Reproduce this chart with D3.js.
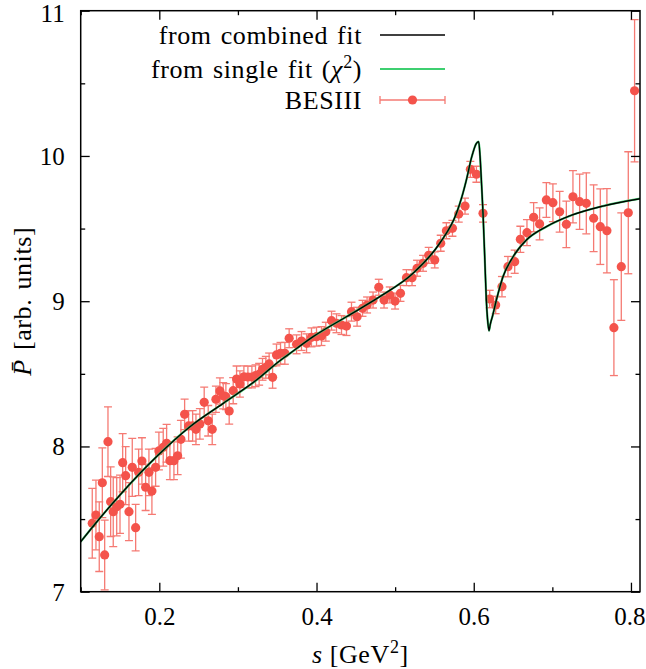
<!DOCTYPE html>
<html>
<head>
<meta charset="utf-8">
<script src="https://cdn.jsdelivr.net/npm/d3@7"></script>
<style>
  html, body { margin: 0; padding: 0; background: #fff; }
  svg { display: block; }
  text { font-family: "Liberation Serif", "Times New Roman", serif; fill: #000; }
</style>
</head>
<body>
<svg id="chart" width="646" height="669"></svg>
<script>
// ---- data ----
const besS = [0.1147,0.1194,0.1236,0.1275,0.1305,0.1347,0.1381,0.1414,0.1458,0.1500,
0.1534,0.1572,0.1614,0.1656,0.1699,0.1737,0.1779,0.1826,0.1868,0.1906,
0.1953,0.1995,0.2050,0.2093,0.2135,0.2186,0.2233,0.2275,0.2322,0.2373,
0.2424,0.2466,0.2516,0.2571,0.2622,0.2673,0.2720,0.2771,0.2813,0.2847,
0.2889,0.2940,0.2983,0.3025,0.3076,0.3127,0.3178,0.3224,0.3270,0.3313,
0.3355,0.3397,0.3441,0.3491,0.3542,0.3597,0.3652,0.3746,0.3809,0.3873,
0.3936,0.4000,0.4063,0.4118,0.4191,0.4254,0.4318,0.4381,0.4445,0.4516,
0.4585,0.4643,0.4719,0.4792,0.4859,0.4932,0.4999,0.5068,0.5144,0.5215,
0.5279,0.5355,0.5427,0.5504,0.5580,0.5652,0.5729,0.5809,0.5889,0.5957,
0.6034,0.6118,0.6203,0.6279,0.6359,0.6435,0.6521,0.6593,0.6677,0.6762,
0.6838,0.6924,0.7007,0.7093,0.7178,0.7262,0.7347,0.7432,0.7525,0.7610,
0.7694,0.7783,0.7877,0.7966,0.8046];
const besP = [7.471,7.528,7.379,7.750,7.253,8.033,7.620,7.551,7.585,7.602,
7.888,7.799,7.551,7.856,7.441,7.822,7.900,7.719,7.822,7.693,
7.856,7.969,7.994,8.022,7.902,7.902,7.936,8.049,8.221,8.141,
8.141,8.118,8.155,8.304,8.177,8.118,8.325,8.382,8.349,8.343,
8.244,8.384,8.464,8.430,8.480,8.478,8.478,8.487,8.497,8.531,
8.545,8.568,8.476,8.630,8.641,8.641,8.745,8.703,8.726,8.710,
8.751,8.756,8.760,8.790,8.866,8.848,8.836,8.829,8.928,8.893,
8.951,8.974,9.008,9.096,9.008,9.043,9.001,9.054,9.162,9.162,
9.227,9.261,9.316,9.284,9.399,9.485,9.502,9.600,9.655,9.908,
9.874,9.605,9.015,8.974,9.100,9.238,9.272,9.426,9.472,9.578,
9.532,9.697,9.678,9.616,9.529,9.719,9.685,9.674,9.571,9.513,
9.485,8.818,9.238,9.609,10.449];
const besErr = [0.24,0.24,0.24,0.24,0.24,0.24,0.24,0.24,0.20,0.20,
0.20,0.20,0.20,0.20,0.16,0.16,0.16,0.16,0.16,0.16,
0.13,0.13,0.13,0.13,0.13,0.13,0.13,0.13,0.105,0.105,
0.105,0.105,0.105,0.105,0.105,0.105,0.09,0.09,0.09,0.09,
0.09,0.09,0.09,0.09,0.075,0.075,0.075,0.075,0.075,0.075,
0.075,0.075,0.075,0.075,0.075,0.075,0.065,0.065,0.065,0.065,
0.065,0.065,0.065,0.065,0.065,0.065,0.065,0.065,0.065,0.065,
0.055,0.055,0.055,0.055,0.055,0.055,0.055,0.055,0.055,0.055,
0.055,0.055,0.055,0.055,0.055,0.055,0.055,0.055,0.055,0.055,
0.055,0.06,0.06,0.06,0.07,0.07,0.08,0.09,0.09,0.10,
0.11,0.12,0.13,0.14,0.16,0.18,0.19,0.21,0.23,0.26,
0.29,0.33,0.37,0.42,0.49];

// fitted curve (combined fit)
const fitS = [0.100,0.112,0.150,0.1966,0.239,0.2813,0.3237,0.3533,0.366,0.3957,
0.438,0.4805,0.5228,0.5567,0.578,0.585,0.5906,0.5975,0.6034,0.6063,
0.608,0.610,0.6118,0.614,0.616,0.6175,0.6194,0.621,0.624,0.6288,
0.6372,0.650,0.667,0.6924,0.722,0.7643,0.812];
const fitP = [7.344,7.425,7.666,7.930,8.136,8.297,8.457,8.590,8.640,8.756,
8.893,9.031,9.192,9.399,9.605,9.72,9.834,9.995,10.087,10.098,
10.00,9.80,9.605,9.30,9.008,8.88,8.797,8.84,8.90,9.008,
9.169,9.306,9.421,9.513,9.587,9.655,9.706];
// single fit (chi^2) – visually coincides with the combined fit
const singleS = fitS.slice();
const singleP = fitP.slice();

const xMajor = [0.2, 0.4, 0.6, 0.8];
const xMinor = [0.1, 0.3, 0.5, 0.7];
const yMajor = [7, 8, 9, 10, 11];
const yMinor = [7.5, 8.5, 9.5, 10.5];
const legendLabels = ["from combined fit", "from single fit (", "\u03C7", "BESIII"];

// ---- layout ----
const W = 646, H = 669;
const m = {left: 80.7, right: 6, top: 10.7, bottom: 77.3};
const svg = d3.select("#chart");
const x = d3.scaleLinear().domain([0.1, 0.8115]).range([m.left, W - m.right]);
const y = d3.scaleLinear().domain([7, 11]).range([H - m.bottom, m.top]);

const red = "#f4534b";
const redBar = "#f57a73";
const green = "#3ecf70";

const plot = svg.append("g");
plot.append("clipPath").attr("id", "clip").append("rect")
  .attr("x", m.left).attr("y", m.top)
  .attr("width", W - m.left - m.right).attr("height", H - m.top - m.bottom);

// error bars
const pts = besS.map((s, i) => ({s, p: besP[i], e: besErr[i]}));
const eb = plot.append("g").attr("stroke", redBar).attr("stroke-width", 1.3).attr("fill", "none")
  .attr("clip-path", "url(#clip)");
const cap = 4;
pts.forEach(d => {
  const xs = x(d.s), y1 = y(d.p - d.e), y2 = y(d.p + d.e);
  eb.append("line").attr("x1", xs).attr("x2", xs).attr("y1", y1).attr("y2", y2);
  eb.append("line").attr("x1", xs - cap).attr("x2", xs + cap).attr("y1", y1).attr("y2", y1);
  eb.append("line").attr("x1", xs - cap).attr("x2", xs + cap).attr("y1", y2).attr("y2", y2);
});
// points
plot.append("g").selectAll("circle").data(pts).join("circle")
  .attr("cx", d => x(d.s)).attr("cy", d => y(d.p)).attr("r", 4.6).attr("fill", red);

// curves
const line = d3.line().x(d => x(d[0])).y(d => y(d[1])).curve(d3.curveMonotoneX);
plot.append("path").datum(singleS.map((s, i) => [s, singleP[i]]))
  .attr("d", line).attr("fill", "none").attr("stroke", green).attr("stroke-width", 2.2)
  .attr("clip-path", "url(#clip)");
plot.append("path").datum(fitS.map((s, i) => [s, fitP[i]]))
  .attr("d", line).attr("fill", "none").attr("stroke", "#000").attr("stroke-width", 1.4)
  .attr("clip-path", "url(#clip)");

// ---- axes (inward ticks on all four sides) ----
function styleAxis(g) {
  g.select(".domain").remove();
  g.selectAll(".tick line").attr("stroke", "#000").attr("stroke-width", 1.3);
}
const tickFont = 25;
const textFont = 26;
const ls = "0.6px";
svg.append("g").attr("transform", `translate(0,${H - m.bottom})`)
  .call(d3.axisBottom(x).tickValues(xMajor).tickSize(-9).tickFormat(d3.format(".1f")))
  .call(styleAxis)
  .call(g => g.selectAll("text").attr("y", 33).attr("dy", 0).style("font-size", tickFont + "px")
    .style("font-family", "Liberation Serif"))
  .call(g => g.selectAll(".tick").filter(d => d === 0.8).select("text")
    .attr("text-anchor", "end").attr("x", W - m.right - x(0.8) + 5));
svg.append("g").attr("transform", `translate(0,${H - m.bottom})`)
  .call(d3.axisBottom(x).tickValues(xMinor).tickSize(-4.5).tickFormat(""))
  .call(styleAxis);
svg.append("g").attr("transform", `translate(0,${m.top})`)
  .call(d3.axisTop(x).tickValues(xMajor).tickSize(-9).tickFormat(""))
  .call(styleAxis);
svg.append("g").attr("transform", `translate(0,${m.top})`)
  .call(d3.axisTop(x).tickValues(xMinor).tickSize(-4.5).tickFormat(""))
  .call(styleAxis);
svg.append("g").attr("transform", `translate(${m.left},0)`)
  .call(d3.axisLeft(y).tickValues(yMajor).tickSize(-9).tickFormat(d3.format("d")).tickPadding(16))
  .call(styleAxis)
  .call(g => g.selectAll("text").attr("dy", "0.34em").style("font-size", tickFont + "px")
    .style("font-family", "Liberation Serif"))
  .call(g => g.selectAll(".tick").filter(d => d === 11).select("text").attr("dy", "0.42em"));
svg.append("g").attr("transform", `translate(${m.left},0)`)
  .call(d3.axisLeft(y).tickValues(yMinor).tickSize(-4.5).tickFormat(""))
  .call(styleAxis);
svg.append("g").attr("transform", `translate(${W - m.right},0)`)
  .call(d3.axisRight(y).tickValues(yMajor).tickSize(-9).tickFormat(""))
  .call(styleAxis);
svg.append("g").attr("transform", `translate(${W - m.right},0)`)
  .call(d3.axisRight(y).tickValues(yMinor).tickSize(-4.5).tickFormat(""))
  .call(styleAxis);

// frame
svg.append("rect").attr("x", m.left).attr("y", m.top)
  .attr("width", W - m.left - m.right).attr("height", H - m.top - m.bottom)
  .attr("fill", "none").attr("stroke", "#000").attr("stroke-width", 1.5);

// axis titles
const xt = svg.append("text").attr("x", (m.left + W - m.right) / 2).attr("y", 663)
  .attr("text-anchor", "middle").style("font-size", textFont + "px").style("letter-spacing", ls);
xt.append("tspan").style("font-style", "italic").text("s");
xt.append("tspan").text("\u00A0[GeV");
xt.append("tspan").attr("dy", -10).style("font-size", "18px").text("2");
xt.append("tspan").attr("dy", 10).text("]");

const yt = svg.append("text")
  .attr("transform", `translate(31,${(m.top + H - m.bottom) / 2}) rotate(-90)`)
  .attr("text-anchor", "middle").style("font-size", textFont + "px")
  .style("letter-spacing", "0.6px").style("word-spacing", "2px");
yt.append("tspan").style("font-style", "italic").text("P\u0304");
yt.append("tspan").text(" [arb. units]");

// ---- legend ----
const legX = 362, lx1 = 380, lx2 = 445;
const rows = [35, 69, 100];
const lg = svg.append("g").style("font-size", textFont + "px")
  .style("letter-spacing", ls).style("word-spacing", "2px");
lg.append("text").attr("x", legX).attr("y", rows[0] + 9).attr("text-anchor", "end").text(legendLabels[0]);
const t2 = lg.append("text").attr("x", legX).attr("y", rows[1] + 9).attr("text-anchor", "end");
t2.append("tspan").text(legendLabels[1]);
t2.append("tspan").style("font-style", "italic").text(legendLabels[2]);
t2.append("tspan").attr("dy", -10).style("font-size", "18px").text("2");
t2.append("tspan").attr("dy", 10).text(")");
lg.append("text").attr("x", legX).attr("y", rows[2] + 9).attr("text-anchor", "end").text(legendLabels[3]);
lg.append("line").attr("x1", lx1).attr("x2", lx2).attr("y1", rows[0]).attr("y2", rows[0])
  .attr("stroke", "#000").attr("stroke-width", 1.4);
lg.append("line").attr("x1", lx1).attr("x2", lx2).attr("y1", rows[1]).attr("y2", rows[1])
  .attr("stroke", green).attr("stroke-width", 2.2);
lg.append("line").attr("x1", lx1).attr("x2", lx2).attr("y1", rows[2]).attr("y2", rows[2])
  .attr("stroke", redBar).attr("stroke-width", 1.3);
[lx1, lx2].forEach(xx => lg.append("line").attr("x1", xx).attr("x2", xx)
  .attr("y1", rows[2] - 4).attr("y2", rows[2] + 4).attr("stroke", redBar).attr("stroke-width", 1.3));
lg.append("circle").attr("cx", (lx1 + lx2) / 2).attr("cy", rows[2]).attr("r", 4.6).attr("fill", red);
</script>
</body>
</html>
